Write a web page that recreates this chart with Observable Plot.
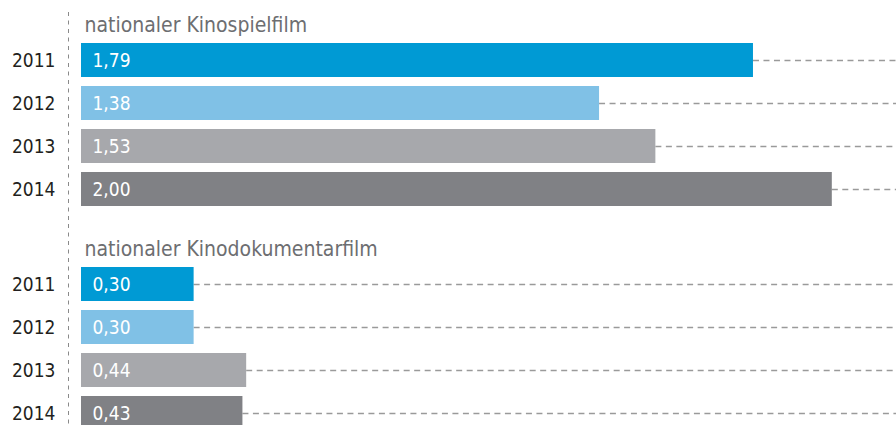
<!DOCTYPE html>
<html>
<head>
<meta charset="utf-8">
<script src="https://cdn.jsdelivr.net/npm/d3@7"></script>
<script src="https://cdn.jsdelivr.net/npm/@observablehq/plot@0.6"></script>
<style>
  html, body { margin: 0; padding: 0; background: #fff; overflow: hidden; }
  #chart svg { display: block; }
</style>
</head>
<body>
<div id="chart"></div>
<script>
const years = ["2011", "2012", "2013", "2014"];
const spielfilmValues = [1.79, 1.38, 1.53, 2.00];
const dokumentarValues = [0.30, 0.30, 0.44, 0.43];
const groupTitles = ["nationaler Kinospielfilm", "nationaler Kinodokumentarfilm"];
const yearColors = ["#009ad4", "#80c1e6", "#a7a8ac", "#808185"];

const FONT = "'DejaVu Sans Condensed', 'DejaVu Sans', sans-serif";
const xMax = 2.171;
const deFormat = d3.formatLocale({decimal: ",", thousands: ".", grouping: [3], currency: ["", " €"]}).format(".2f");

function makePlot(title, values, layout) {
  const data = years.map((year, i) => ({year, value: values[i]}));
  return Plot.plot({
    width: 896,
    height: layout.height,
    marginLeft: 81,
    marginRight: 0,
    marginTop: layout.marginTop,
    marginBottom: layout.marginBottom,
    style: {fontFamily: FONT, fontStretch: "condensed", background: "#fff", overflow: "visible"},
    x: {domain: [0, xMax], axis: null},
    y: {domain: years, paddingInner: 0.22, paddingOuter: 0.11, label: null},
    color: {domain: years, range: yearColors},
    marks: [
      Plot.ruleX([0], {
        stroke: "#8a8a8a", strokeWidth: 1, strokeDasharray: "4,4.5",
        dx: -13, insetTop: layout.ruleInsetTop, insetBottom: layout.ruleInsetBottom
      }),
      Plot.ruleY(data, {
        y: "year", x1: "value", x2: () => xMax,
        stroke: "#9a9a9a", strokeWidth: 1.4, strokeDasharray: "6,4.5"
      }),
      Plot.barX(data, {y: "year", x: "value", fill: "year"}),
      Plot.text(data, {
        y: "year", x: () => 0, text: d => deFormat(d.value),
        textAnchor: "start", dx: 11, fill: "#fff", fontSize: 19
      }),
      Plot.text([title], {
        frameAnchor: "top-left", textAnchor: "start", lineAnchor: "middle",
        dx: 3, dy: -12.5, fill: "#6d6e71", fontSize: 21
      }),
      Plot.axisY({tickSize: 0, tickPadding: 26, fontSize: 19, fill: "#231f20", label: null})
    ]
  });
}

const chart = document.getElementById("chart");
chart.appendChild(makePlot(groupTitles[0], spielfilmValues,
  {height: 224, marginTop: 37, marginBottom: 13, ruleInsetTop: -25, ruleInsetBottom: -13}));
chart.appendChild(makePlot(groupTitles[1], dokumentarValues,
  {height: 212, marginTop: 37, marginBottom: 1, ruleInsetTop: -37, ruleInsetBottom: -1}));
</script>
</body>
</html>
